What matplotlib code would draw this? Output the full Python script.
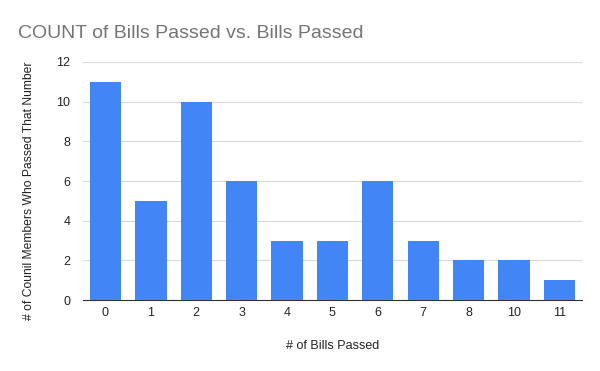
import matplotlib
matplotlib.use("Agg")
import matplotlib.pyplot as plt

bills_passed = ["0", "1", "2", "3", "4", "5", "6", "7", "8", "10", "11"]
member_counts = [11, 5, 10, 6, 3, 3, 6, 3, 2, 2, 1]

plt.rcParams['font.family'] = ['Liberation Sans', 'DejaVu Sans']

fig = plt.figure(figsize=(6, 3.71), dpi=100)
ax = fig.add_axes([0.138, 0.191, 0.832, 0.642])

x = range(len(bills_passed))
ax.bar(x, member_counts, width=0.69, color="#4285F4", zorder=3)

ax.set_xlim(-0.5, len(bills_passed) - 0.5)
ax.set_ylim(0, 12)
ax.set_yticks(range(0, 13, 2))
ax.set_xticks(list(x))
ax.set_xticklabels(bills_passed)
ax.grid(axis="y", color="#d9d9d9", linewidth=0.8, zorder=0)
for s in ["top", "right", "left"]:
    ax.spines[s].set_visible(False)
ax.spines["bottom"].set_color("#333333")
ax.tick_params(axis="both", length=0, labelsize=9, colors="#222222")
ax.tick_params(axis="x", pad=5)
ax.tick_params(axis="y", pad=9)

ax.set_xlabel("# of Bills Passed", fontsize=9, color="#222222", labelpad=15)
ax.set_ylabel("# of Counil Members Who Passed That Number", fontsize=8.7, color="#222222")
ax.yaxis.set_label_coords(-0.096, 0.46)

fig.text(0.03, 0.91, "COUNT of Bills Passed vs. Bills Passed", fontsize=14, color="#757575", va="center")

fig.savefig("out.png", dpi=100, facecolor="white")
